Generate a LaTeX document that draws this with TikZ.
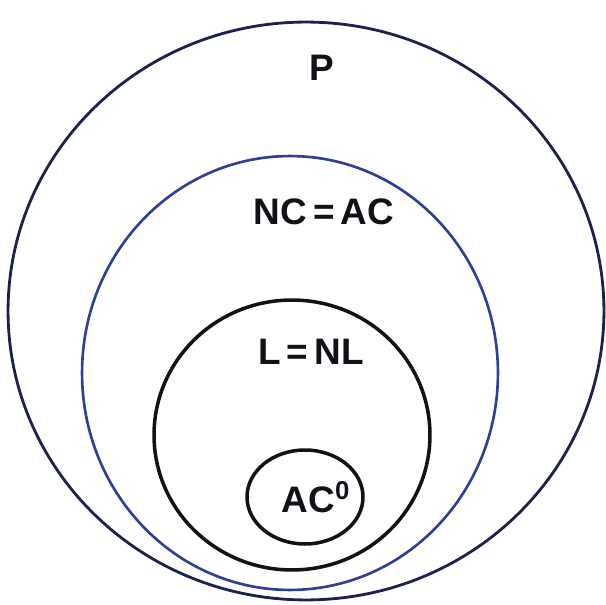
\documentclass[tikz,border=0pt]{standalone}
\usepackage{fontspec}
\setmainfont{Liberation Sans}
\usepackage{tikz}
\usetikzlibrary{shapes.geometric}
\definecolor{navy}{HTML}{1C2150}
\definecolor{pen}{HTML}{2E3F96}
\definecolor{ink}{HTML}{111118}
\tikzset{
  ring/.style={ellipse,draw=ink,line width=2pt,inner sep=0pt},
  cls/.style={font=\fontsize{21}{25}\selectfont\bfseries,text=ink,inner sep=0pt}}

\begin{document}
\begin{tikzpicture}[x=0.02cm,y=-0.02cm]
  \useasboundingbox (0,0) rectangle (606,605);
  \node[ring,draw=navy,line width=1.6pt,minimum width=11.92cm,minimum height=11.56cm] (p) at (306,311) {};
  \node[ring,draw=pen,line width=1.5pt,minimum width=8.32cm,minimum height=8.68cm] (nc) at (290,373) {};
  \node[ring,minimum width=5.52cm,minimum height=5.4cm] (l) at (292,435) {};
  \node[ring,minimum width=2.32cm,minimum height=1.88cm] (ac0) at (305,497) {};
  \node[cls] (plbl) at (322,68) {P};
  \node[cls] (nclbl) at (324,212) {NC\,=\,AC};
  \node[cls] (llbl) at (311,352) {L\,=\,NL};
  \node[cls] (aclbl) at (316,497) {AC$^{\mathbf{0}}$};
\end{tikzpicture}
\end{document}
